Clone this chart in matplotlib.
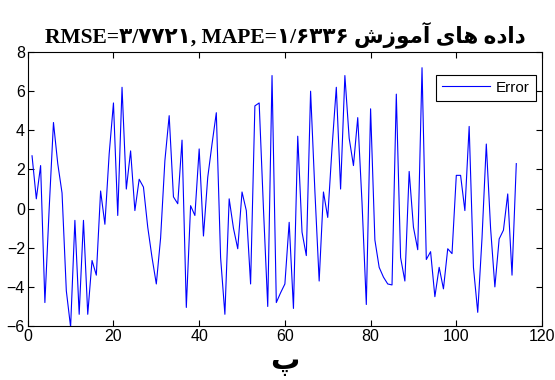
import numpy as np
import matplotlib
matplotlib.use('Agg')
import matplotlib.pyplot as plt

# error per training sample
err = [2.7, 0.5, 2.2, -4.8, 0.0, 4.4, 2.3, 0.8, -4.2, -6.05,
       -0.6, -5.4, -0.6, -5.4, -2.65, -3.4, 0.9, -0.8, 2.8, 5.4,
       -0.35, 6.2, 1.0, 2.95, -0.1, 1.5, 1.1, -0.95, -2.5, -3.85,
       -1.5, 2.45, 4.75, 0.6, 0.25, 3.5, -5.05, 0.15, -0.35, 3.05,
       -1.4, 1.6, 3.3, 4.9, -2.5, -5.4, 0.5, -1.0, -2.05, 0.85,
       -0.1, -3.85, 5.25, 5.4, 0.0, -5.0, 6.8, -4.8, -4.3, -3.85,
       -0.7, -5.1, 3.7, -1.2, -2.4, 6.0, 0.9, -3.7, 0.85, -0.45,
       3.1, 6.2, 1.0, 6.8, 3.6, 2.2, 4.65, 0.3, -4.9, 5.1,
       -1.6, -3.0, -3.5, -3.85, -3.9, 5.85, -2.5, -3.7, 1.9, -0.95,
       -2.1, 7.2, -2.6, -2.2, -4.5, -3.0, -4.1, -2.05, -2.3, 1.7,
       1.7, -0.1, 4.2, -3.0, -5.3, -1.5, 3.3, -1.0, -4.0, -1.55,
       -1.1, 0.75, -3.4, 2.3]
idx = np.arange(1, len(err) + 1)

xticks = [0, 20, 40, 60, 80, 100, 120]
yticks = [-6, -4, -2, 0, 2, 4, 6, 8]

# persian words in visual order with presentation forms (no shaping in mpl)
w_amoozesh = '\uFEB5\uFEAF\uFEEE\uFEE3\uFE81'
w_haye = '\uFBFC\uFE8E\uFEEB'
w_dade = '\uFEE9\uFEA9\uFE8D\uFEA9'
title_txt = 'RMSE=\u06F3/\u06F7\u06F7\u06F2\u06F1, MAPE=\u06F1/\u06F6\u06F3\u06F3\u06F6 ' + \
    w_amoozesh + ' ' + w_haye + ' ' + w_dade
xlab = '\uFB56'

fig = plt.figure(figsize=(5.55, 3.8), dpi=100)
ax = fig.add_axes([0.05, 0.142, 0.9266, 0.721])
ax.plot(idx, err, color=(0, 0, 1), lw=0.8, label='Error')
ax.set_xlim(0, 120)
ax.set_ylim(-6, 8)
ax.set_xticks(xticks)
ax.set_yticks(yticks)
ax.tick_params(direction='in', top=True, right=True, length=4, width=0.8,
               labelsize=11.5, pad=2)
for lab in ax.get_xticklabels() + ax.get_yticklabels():
    lab.set_family(['Liberation Sans Narrow', 'Liberation Sans'])
for s in ax.spines.values():
    s.set_linewidth(0.8)

ax.set_title(title_txt, fontsize=15.5, fontweight='bold',
             family=['Liberation Serif', 'DejaVu Sans'], pad=7)
ax.set_xlabel(xlab, fontsize=21, fontweight='bold', family=['DejaVu Sans'], labelpad=3)

leg = ax.legend(loc='upper right', bbox_to_anchor=(0.988, 0.918), fancybox=False,
                edgecolor='black', framealpha=1, handlelength=3.1,
                prop={'family': 'Liberation Sans', 'size': 11},
                borderpad=0.4, handletextpad=0.4, borderaxespad=0)
leg.get_frame().set_linewidth(0.8)

fig.savefig('out.png', dpi=100)
